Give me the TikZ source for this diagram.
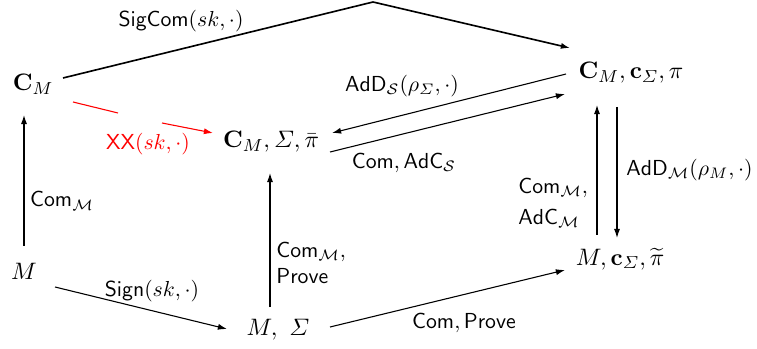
\documentclass[tikz,border=0pt]{standalone}
\usepackage{amsmath,amssymb}
\usetikzlibrary{arrows.meta,calc}
\begin{document}
\begin{tikzpicture}[x=0.46pt,y=-0.46pt,
  >={Latex[length=4.2pt,width=2.8pt]},
  obj/.style={inner sep=1pt,font=\fontsize{10.95}{13}\selectfont},
  lbl/.style={inner sep=0pt},
  conn/.style={line width=0.5pt},
  bigconn/.style={line width=0.75pt}]
\useasboundingbox (0,0) rectangle (757,349);
% objects
\node[obj] (cmL) at (33,84) {$\mathbf{C}_M$};
\node[obj] (cmS) at (271,142) {$\mathbf{C}_M, \varSigma, \bar{\pi}$};
\node[obj] (cmR) at (631,73) {$\mathbf{C}_M, \mathbf{c}_{\varSigma}, \pi$};
\node[obj] (mL) at (24,271) {$M$};
\node[obj] (mS) at (278,330) {$M,\ \varSigma$};
\node[obj] (mR) at (620,259) {$M, \mathbf{c}_{\varSigma}, \widetilde{\pi}$};
% helper coordinates
\coordinate (peak) at (373,2);
\coordinate (redA) at (118,113);
\coordinate (redB) at (162,123);
% connectors
\draw[bigconn,->] ($(cmL)+(30,-6)$) -- (peak) -- ($(cmR)+(-61,-25)$);
\draw[conn,red] ($(cmL)+(40,18)$) -- (redA);
\draw[conn,red,->] (redB) -- ($(cmS)+(-58,-9)$);
\draw[conn,->] ($(cmR)+(-65,1)$) -- ($(cmS)+(61,-9)$);
\draw[conn,->] ($(cmS)+(59,10)$) -- ($(cmR)+(-66,21)$);
\draw[conn,->] ($(mL)+(0,-25)$) -- ($(cmL)+(-9,31)$);
\draw[conn,->] ($(mL)+(31,16)$) -- ($(mS)+(-51,-1)$);
\draw[conn,->] ($(mS)+(-8,-23)$) -- ($(cmS)+(-1,31)$);
\draw[conn,->] ($(mS)+(52,-3)$) -- ($(mR)+(-55,11)$);
\draw[conn,->] ($(mR)+(-23,-24)$) -- ($(cmR)+(-34,32)$);
\draw[conn,->] ($(cmR)+(-14,34)$) -- ($(mR)+(-3,-21)$);
% labels
\node[lbl] (lSig) at (181,21) {$\mathsf{SigCom}(sk,\cdot)$};
\node[lbl,text=red] (lXX) at (148,144) {$\mathsf{XX}(sk,\cdot)$};
\node[lbl] (lAdDS) at (402,86) {$\mathsf{AdD}_{\mathcal{S}}(\rho_{\varSigma},\cdot)$};
\node[lbl] (lAdCS) at (404,163) {$\mathsf{Com},\mathsf{AdC}_{\mathcal{S}}$};
\node[lbl] (lComL) at (62,201) {$\mathsf{Com}_{\mathcal{M}}$};
\node[lbl,anchor=west,align=left] (lMid) at (276,263) {$\mathsf{Com}_{\mathcal{M}},$\\$\mathsf{Prove}$};
\node[lbl,anchor=west,align=left] (lRight) at (518,203) {$\mathsf{Com}_{\mathcal{M}},$\\[2.5pt]$\mathsf{AdC}_{\mathcal{M}}$};
\node[lbl,anchor=west] (lAdDM) at (626,170) {$\mathsf{AdD}_{\mathcal{M}}(\rho_M,\cdot)$};
\node[lbl] (lSign) at (152,291) {$\mathsf{Sign}(sk,\cdot)$};
\node[lbl] (lCP) at (464,323) {$\mathsf{Com},\mathsf{Prove}$};
\end{tikzpicture}
\end{document}
